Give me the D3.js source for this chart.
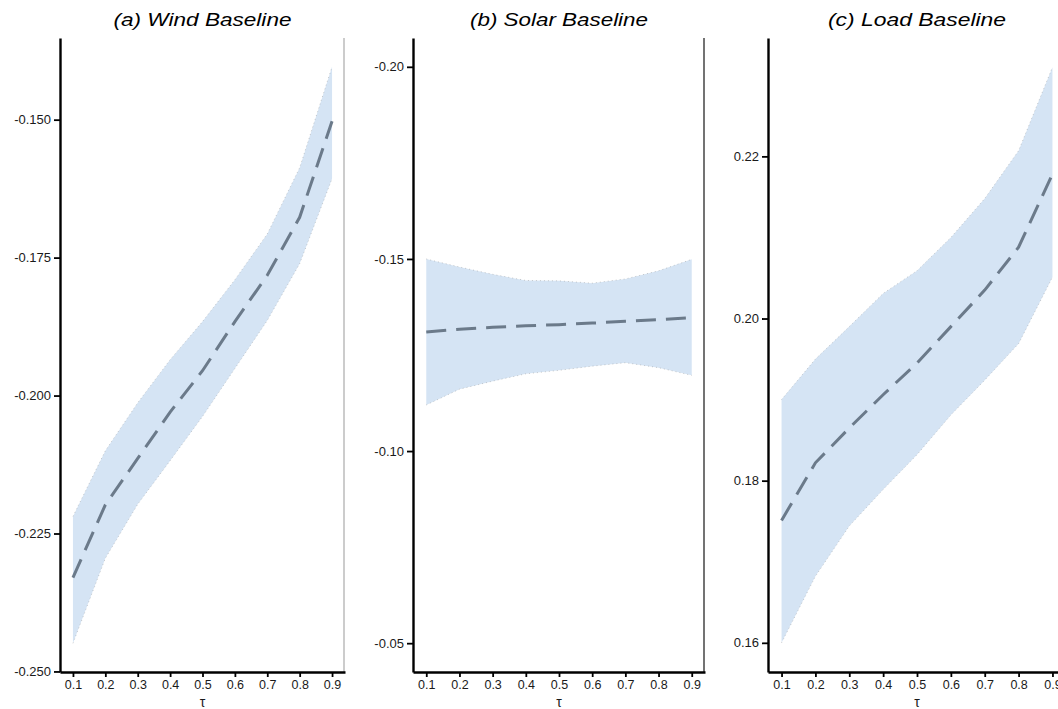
<!DOCTYPE html>
<html>
<head>
<meta charset="utf-8">
<style>
  body { margin: 0; background: #fff; }
  text { font-family: "Liberation Sans", Arial, sans-serif; }
</style>
</head>
<body>
<script src="https://d3js.org/d3.v7.min.js"></script>
<script>
// quantiles
var tau = [0.1, 0.2, 0.3, 0.4, 0.5, 0.6, 0.7, 0.8, 0.9];
var tauLabels = ["0.1", "0.2", "0.3", "0.4", "0.5", "0.6", "0.7", "0.8", "0.9"];

// (a) wind
var windMean  = [-0.2330, -0.2198, -0.2114, -0.2030, -0.1955, -0.1866, -0.1782, -0.1677, -0.1503];
var windLower = [-0.2449, -0.2295, -0.2197, -0.2118, -0.2038, -0.1951, -0.1864, -0.1761, -0.1607];
var windUpper = [-0.2219, -0.2100, -0.2013, -0.1935, -0.1866, -0.1790, -0.1707, -0.1587, -0.1404];
var windTicks = [-0.250, -0.225, -0.200, -0.175, -0.150];
var windTickLabels = ["-0.250", "-0.225", "-0.200", "-0.175", "-0.150"];

// (b) solar (axis reversed)
var solarMean  = [-0.1310, -0.1317, -0.1322, -0.1326, -0.1329, -0.1333, -0.1338, -0.1342, -0.1347];
var solarLower = [-0.1500, -0.1479, -0.1460, -0.1444, -0.1443, -0.1437, -0.1448, -0.1469, -0.1499];
var solarUpper = [-0.1120, -0.1161, -0.1182, -0.1201, -0.1210, -0.1221, -0.1230, -0.1217, -0.1197];
var solarTicks = [-0.20, -0.15, -0.10, -0.05];
var solarTickLabels = ["-0.20", "-0.15", "-0.10", "-0.05"];

// (c) load
var loadMean  = [0.1751, 0.1822, 0.1865, 0.1906, 0.1945, 0.1990, 0.2035, 0.2088, 0.2178];
var loadLower = [0.1600, 0.1682, 0.1744, 0.1789, 0.1832, 0.1881, 0.1924, 0.1969, 0.2051];
var loadUpper = [0.1900, 0.1950, 0.1990, 0.2031, 0.2059, 0.2100, 0.2148, 0.2207, 0.2310];
var loadTicks = [0.16, 0.18, 0.20, 0.22];
var loadTickLabels = ["0.16", "0.18", "0.20", "0.22"];

var titles = ["(a) Wind Baseline", "(b) Solar Baseline", "(c) Load Baseline"];

var W = 1058, H = 709;
var plotTop = 38, plotBottom = 672;

var svg = d3.select("body").append("svg").attr("width", W).attr("height", H);

var panels = [
  {left: 60,  right: 345,  yDom: [-0.2501, -0.1352], mean: windMean,  lo: windLower,  hi: windUpper,
   ticks: windTicks, tickLabels: windTickLabels, title: titles[0], border: "#cccccc"},
  {left: 413, right: 705,  yDom: [-0.0425, -0.2075], mean: solarMean, lo: solarLower, hi: solarUpper,
   ticks: solarTicks, tickLabels: solarTickLabels, title: titles[1], border: "#444444"},
  {left: 768, right: 1066, yDom: [0.1564, 0.2346],   mean: loadMean,  lo: loadLower,  hi: loadUpper,
   ticks: loadTicks, tickLabels: loadTickLabels, title: titles[2], border: null}
];

panels.forEach(function(p) {
  var x = d3.scaleLinear().domain([0.06, 0.94]).range([p.left, p.right]);
  var y = d3.scaleLinear().domain(p.yDom).range([plotBottom, plotTop]);
  var g = svg.append("g");

  var rows = tau.map(function(t, i) { return {t: t, m: p.mean[i], lo: p.lo[i], hi: p.hi[i]}; });

  // ribbon
  g.append("path")
    .datum(rows)
    .attr("fill", "#d5e4f4")
    .attr("d", d3.area().x(function(d) { return x(d.t); })
      .y0(function(d) { return y(d.lo); }).y1(function(d) { return y(d.hi); }));

  // faint dotted edges of the ribbon
  ["lo", "hi"].forEach(function(k) {
    g.append("path")
      .datum(rows)
      .attr("fill", "none")
      .attr("stroke", "#8a8a8a")
      .attr("stroke-width", 0.7)
      .attr("stroke-dasharray", "1,3")
      .attr("opacity", 0.6)
      .attr("d", d3.line().x(function(d) { return x(d.t); }).y(function(d) { return y(d[k]); }));
  });

  // mean line
  g.append("path")
    .datum(rows)
    .attr("fill", "none")
    .attr("stroke", "#6b7a8a")
    .attr("stroke-width", 3)
    .attr("stroke-dasharray", "20,10")
    .attr("d", d3.line().x(function(d) { return x(d.t); }).y(function(d) { return y(d.m); }));

  // right border
  if (p.border) {
    g.append("line")
      .attr("x1", p.right - 1).attr("x2", p.right - 1)
      .attr("y1", plotTop).attr("y2", plotBottom)
      .attr("stroke", p.border).attr("stroke-width", p.border === "#cccccc" ? 2 : 1.5);
  }

  // y axis
  var yAxis = g.append("g")
    .attr("transform", "translate(" + p.left + ",0)")
    .call(d3.axisLeft(y).tickValues(p.ticks)
      .tickFormat(function(d, i) { return p.tickLabels[i]; })
      .tickSize(6).tickSizeOuter(0).tickPadding(3));
  yAxis.select(".domain").attr("stroke", "#000").attr("stroke-width", 2.4);
  yAxis.selectAll(".tick line").attr("stroke", "#000").attr("stroke-width", 1.8);
  yAxis.selectAll(".tick text").attr("fill", "#1a1a1a").style("font-size", "13px");

  // x axis
  var xAxis = g.append("g")
    .attr("transform", "translate(0," + plotBottom + ")")
    .call(d3.axisBottom(x).tickValues(tau)
      .tickFormat(function(d, i) { return tauLabels[i]; })
      .tickSize(5).tickSizeOuter(0).tickPadding(3));
  xAxis.select(".domain").attr("stroke", "#000").attr("stroke-width", 2.4);
  xAxis.selectAll(".tick line").attr("stroke", "#000").attr("stroke-width", 1.8);
  xAxis.selectAll(".tick text").attr("fill", "#1a1a1a").style("font-size", "12.5px");

  // x label
  g.append("text")
    .attr("x", (p.left + p.right) / 2).attr("y", 707)
    .attr("text-anchor", "middle")
    .style("font-size", "14px").attr("fill", "#1a1a1a")
    .text("τ");

  // title
  g.append("text")
    .attr("x", (p.left + p.right) / 2).attr("y", 26)
    .attr("text-anchor", "middle")
    .style("font-size", "18px").style("font-style", "italic")
    .attr("textLength", 178).attr("lengthAdjust", "spacingAndGlyphs")
    .attr("fill", "#000")
    .text(p.title);
});
</script>
</body>
</html>
